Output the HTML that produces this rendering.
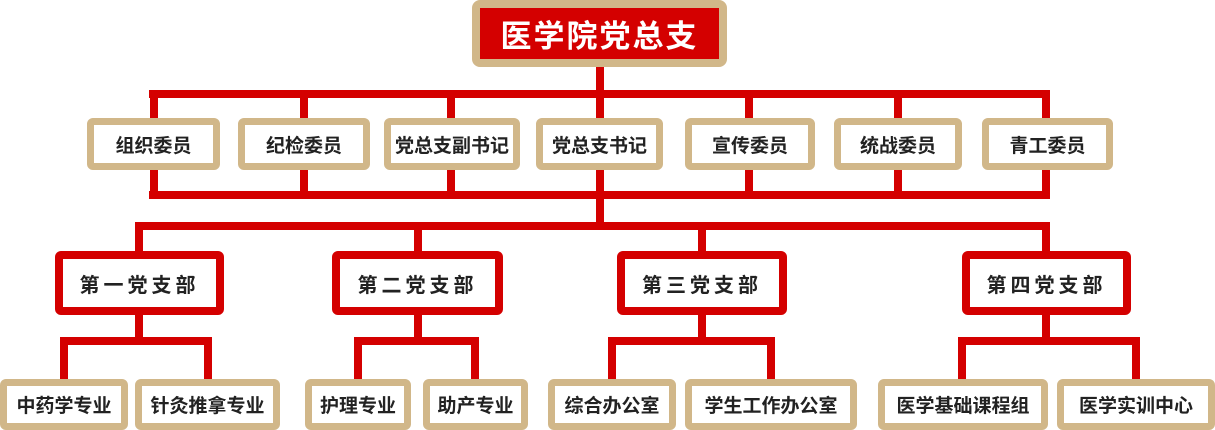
<!DOCTYPE html>
<html><head><meta charset="utf-8"><style>
body{margin:0;width:1215px;height:430px;background:#fff;position:relative;overflow:hidden;font-family:"Liberation Sans","Noto Sans CJK SC",sans-serif;}
.l{position:absolute;background:#d40000;}
.n{position:absolute;box-sizing:border-box;display:flex;align-items:center;justify-content:center;font-weight:bold;color:#222;background:#fff;border-radius:6px;white-space:nowrap;}
.t{border:7px solid #d1b789;font-size:19px;}
.r{border:8px solid #d40000;font-size:20px;letter-spacing:4px;}
</style></head><body>
<!-- lines -->
<div class="l" style="left:596px;top:60px;width:8px;height:34px"></div>
<div class="l" style="left:149px;top:90px;width:901px;height:8px"></div>
<div class="l" style="left:149px;top:191px;width:901px;height:8px"></div>
<div class="l" style="left:150px;top:90px;width:8px;height:109px"></div>
<div class="l" style="left:300px;top:90px;width:8px;height:109px"></div>
<div class="l" style="left:447px;top:90px;width:8px;height:109px"></div>
<div class="l" style="left:596px;top:90px;width:8px;height:140px"></div>
<div class="l" style="left:745px;top:90px;width:8px;height:109px"></div>
<div class="l" style="left:894px;top:90px;width:8px;height:109px"></div>
<div class="l" style="left:1042px;top:90px;width:8px;height:109px"></div>
<div class="l" style="left:135px;top:222px;width:915px;height:8px"></div>
<div class="l" style="left:135px;top:222px;width:8px;height:120px"></div>
<div class="l" style="left:414px;top:222px;width:8px;height:120px"></div>
<div class="l" style="left:698px;top:222px;width:8px;height:120px"></div>
<div class="l" style="left:1042px;top:222px;width:8px;height:120px"></div>
<div class="l" style="left:60px;top:337px;width:152px;height:8px"></div>
<div class="l" style="left:60px;top:337px;width:8px;height:45px"></div>
<div class="l" style="left:204px;top:337px;width:8px;height:45px"></div>
<div class="l" style="left:354px;top:337px;width:125px;height:8px"></div>
<div class="l" style="left:354px;top:337px;width:8px;height:45px"></div>
<div class="l" style="left:471px;top:337px;width:8px;height:45px"></div>
<div class="l" style="left:608px;top:337px;width:167px;height:8px"></div>
<div class="l" style="left:608px;top:337px;width:8px;height:45px"></div>
<div class="l" style="left:767px;top:337px;width:8px;height:45px"></div>
<div class="l" style="left:958px;top:337px;width:182px;height:8px"></div>
<div class="l" style="left:958px;top:337px;width:8px;height:45px"></div>
<div class="l" style="left:1132px;top:337px;width:8px;height:45px"></div>
<!-- top -->
<div class="n" style="left:472px;top:0;width:255px;height:67px;border:8px solid #d1b789;background:#d40000;color:#fff;font-size:31px;letter-spacing:2px;border-radius:8px">医学院党总支</div>
<!-- L2 -->
<div class="n t" style="left:87px;top:118px;width:133px;height:52px">组织委员</div>
<div class="n t" style="left:238px;top:118px;width:132px;height:52px">纪检委员</div>
<div class="n t" style="left:384px;top:118px;width:136px;height:52px">党总支副书记</div>
<div class="n t" style="left:536px;top:118px;width:127px;height:52px">党总支书记</div>
<div class="n t" style="left:685px;top:118px;width:130px;height:52px">宣传委员</div>
<div class="n t" style="left:834px;top:118px;width:128px;height:52px">统战委员</div>
<div class="n t" style="left:982px;top:118px;width:131px;height:52px">青工委员</div>
<!-- L3 -->
<div class="n r" style="left:55px;top:251px;width:169px;height:64px">第一党支部</div>
<div class="n r" style="left:332px;top:251px;width:171px;height:64px">第二党支部</div>
<div class="n r" style="left:617px;top:251px;width:170px;height:64px">第三党支部</div>
<div class="n r" style="left:962px;top:251px;width:169px;height:64px">第四党支部</div>
<!-- L4 -->
<div class="n t" style="left:0;top:379px;width:128px;height:51px">中药学专业</div>
<div class="n t" style="left:135px;top:379px;width:145px;height:51px">针灸推拿专业</div>
<div class="n t" style="left:305px;top:379px;width:106px;height:51px">护理专业</div>
<div class="n t" style="left:423px;top:379px;width:105px;height:51px">助产专业</div>
<div class="n t" style="left:548px;top:379px;width:128px;height:51px">综合办公室</div>
<div class="n t" style="left:685px;top:379px;width:172px;height:51px">学生工作办公室</div>
<div class="n t" style="left:878px;top:379px;width:170px;height:51px">医学基础课程组</div>
<div class="n t" style="left:1057px;top:379px;width:158px;height:51px">医学实训中心</div>
</body></html>
